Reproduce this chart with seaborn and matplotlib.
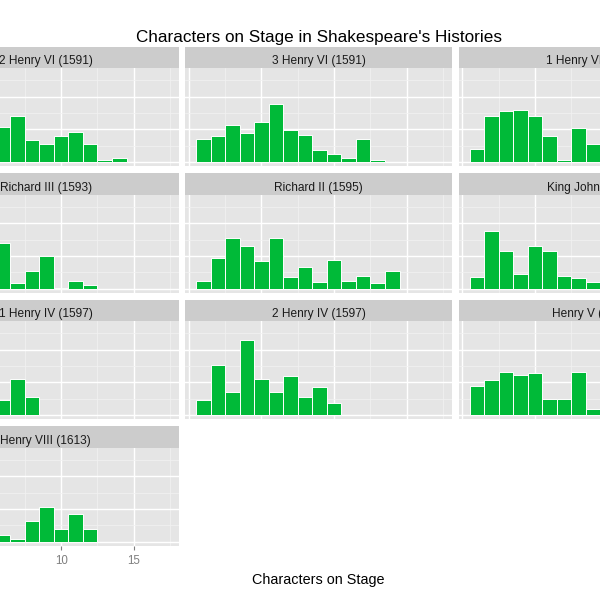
import matplotlib
matplotlib.use("Agg")
import matplotlib.pyplot as plt
import seaborn as sns
import pandas as pd

# ---- data: share of scenes (density) by number of characters on stage (1, 2, 3, ...)
plays = ["2 Henry VI (1591)", "3 Henry VI (1591)", "1 Henry VI (1592)",
         "Richard III (1593)", "Richard II (1595)", "King John (1596)",
         "1 Henry IV (1597)", "2 Henry IV (1597)", "Henry V (1599)",
         "Henry VIII (1613)"]
henry6_2 = [0.02, 0.06, 0.09, 0.11, 0.097, 0.108, 0.142, 0.069, 0.057, 0.080, 0.091, 0.057, 0.006, 0.013]
henry6_3 = [0.072, 0.080, 0.115, 0.090, 0.122, 0.178, 0.098, 0.083, 0.036, 0.024, 0.013, 0.071, 0.006]
henry6_1 = [0.040, 0.142, 0.157, 0.160, 0.142, 0.080, 0.006, 0.106, 0.057, 0.05, 0.04, 0.02]
richard3 = [0.03, 0.12, 0.275, 0.15, 0.077, 0.141, 0.016, 0.054, 0.099, 0.003, 0.025, 0.010]
richard2 = [0.025, 0.095, 0.154, 0.131, 0.085, 0.154, 0.036, 0.065, 0.021, 0.088, 0.025, 0.040, 0.017, 0.055]
king_john = [0.036, 0.175, 0.116, 0.046, 0.131, 0.116, 0.039, 0.032, 0.020, 0.06, 0.05, 0.07, 0.04, 0.04, 0.03]
henry4_1 = [0.05, 0.19, 0.26, 0.17, 0.115, 0.046, 0.112, 0.057]
henry4_2 = [0.046, 0.153, 0.071, 0.229, 0.112, 0.071, 0.119, 0.057, 0.087, 0.036]
henry5 = [0.090, 0.108, 0.133, 0.122, 0.129, 0.049, 0.049, 0.133, 0.019, 0.06, 0.05, 0.05]
henry8 = [0.03, 0.13, 0.20, 0.18, 0.101, 0.020, 0.007, 0.062, 0.106, 0.040, 0.084, 0.040]
series = [henry6_2, henry6_3, henry6_1, richard3, richard2, king_john,
          henry4_1, henry4_2, henry5, henry8]
x_major = [0, 5, 10, 15]
x_minor = [2.5, 7.5, 12.5, 17.5]
y_major = [0, 0.1, 0.2]
y_minor = [0.05, 0.15, 0.25]

rows = []
for play, vals in zip(plays, series):
    for i, v in enumerate(vals):
        rows.append({"play": play, "chars": i + 1, "density": v})
df = pd.DataFrame(rows)

plt.rcParams["font.family"] = ["Liberation Sans", "DejaVu Sans"]

W = H = 600.0
fig = plt.figure(figsize=(6, 6), dpi=100)
fig.patch.set_facecolor("white")

col_x = [-87.7, 185.3, 459.0]
col_w = 267.0
row_top = [46.7, 173.2, 299.7, 426.2]
strip_h = 21.6
panel_h = 98.0
GREEN = "#00BA38"

for k, play in enumerate(plays):
    r, c = divmod(k, 3)
    x0 = col_x[c]
    st = row_top[r]
    # strip
    sax = fig.add_axes([x0 / W, 1 - (st + strip_h) / H, col_w / W, strip_h / H])
    sax.set_facecolor("#cccccc")
    sax.set_xticks([]); sax.set_yticks([])
    for s in sax.spines.values():
        s.set_visible(False)
    sax.text(0.5, 0.19, play, ha="center", va="baseline", fontsize=8.6,
             color="#1a1a1a", transform=sax.transAxes)
    # panel
    ax = fig.add_axes([x0 / W, 1 - (st + strip_h + panel_h) / H, col_w / W, panel_h / H])
    ax.set_facecolor("#e5e5e5")
    ax.set_axisbelow(True)
    sub = df[df["play"] == play]
    sns.histplot(data=sub, x="chars", weights="density", discrete=True, ax=ax,
                 color=GREEN, edgecolor="white", linewidth=0.7, alpha=1.0)
    ax.set_xlim(-0.24, 18.13)
    ax.set_ylim(-0.0125, 0.287)
    ax.set_xticks(x_major)
    ax.set_xticks(x_minor, minor=True)
    ax.set_yticks(y_major)
    ax.set_yticks(y_minor, minor=True)
    ax.grid(which="major", color="white", linewidth=1.0)
    ax.grid(which="minor", color="#f2f2f2", linewidth=0.5)
    for s in ax.spines.values():
        s.set_visible(False)
    ax.set_xlabel("")
    ax.set_ylabel("")
    ax.tick_params(which="both", left=False, labelleft=False)
    ax.tick_params(which="minor", bottom=False)
    if k == 9:
        ax.tick_params(axis="x", which="major", length=3, width=0.8, color="#7f7f7f",
                       labelcolor="#7f7f7f", labelsize=8.3, pad=3.5)
    else:
        ax.tick_params(axis="x", which="major", length=0, labelbottom=False)

fig.text(319 / W, 1 - 41.7 / H, "Characters on Stage in Shakespeare's Histories",
         ha="center", va="baseline", fontsize=12.3, color="black")
fig.text(318 / W, 1 - 584 / H, "Characters on Stage",
         ha="center", va="baseline", fontsize=10.4, color="black")

fig.savefig("out.png", dpi=100, facecolor="white")
